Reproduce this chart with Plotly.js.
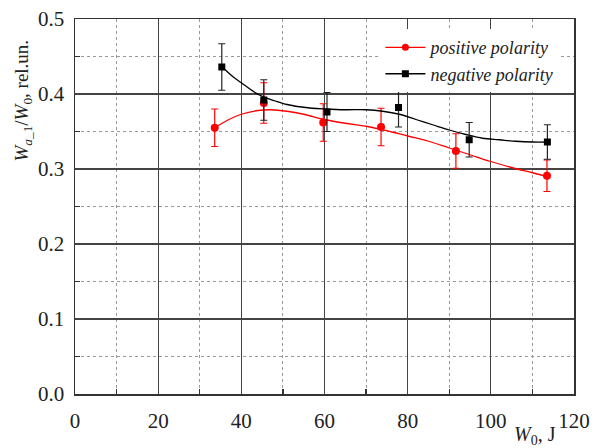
<!DOCTYPE html>
<html>
<head>
<meta charset="utf-8">
<script src="https://cdn.plot.ly/plotly-3.0.1.min.js"></script>
<style>html,body{margin:0;padding:0;background:#fff;}#chart{width:592px;height:448px;}</style>
</head>
<body>
<div id="chart"></div>
<script>
// measured points
var posX = [33.6, 45.4, 59.7, 73.6, 91.6, 113.5];
var posY = [0.355, 0.388, 0.362, 0.356, 0.324, 0.291];
var posErr = [0.025, 0.027, 0.025, 0.025, 0.023, 0.021];

var negX = [35.3, 45.4, 60.6, 77.8, 94.8, 113.6];
var negY = [0.436, 0.392, 0.376, 0.382, 0.339, 0.336];
var negErr = [0.031, 0.027, 0.026, 0.026, 0.023, 0.023];

// smoothed fit curves
var posFitX = [33.6, 37, 40, 44, 47, 51, 55, 60, 65, 70, 75, 80, 85, 90, 95, 100, 105, 110, 113.5];
var posFitY = [0.355, 0.366, 0.373, 0.378, 0.379, 0.377, 0.373, 0.366, 0.361, 0.357, 0.351, 0.344, 0.337, 0.328, 0.319, 0.310, 0.302, 0.295, 0.290];

var negFitX = [35.4, 38, 40, 43, 45.4, 48, 51, 54, 57, 60, 65, 70, 74, 78, 82, 86, 90, 94, 98, 102, 106, 110, 113.6];
var negFitY = [0.436, 0.423, 0.415, 0.403, 0.396, 0.391, 0.386, 0.383, 0.381, 0.380, 0.379, 0.379, 0.377, 0.373, 0.366, 0.359, 0.352, 0.346, 0.341, 0.339, 0.337, 0.336, 0.336];

var seriesNames = ['positive polarity', 'negative polarity'];
var xTitle = '<i>W</i><sub>0</sub>, J';
var yTitle = '<i>W</i><sub><i>a</i>_1</sub>/<i>W</i><sub>0</sub>, rel.un.';

var SERIF = 'Liberation Serif';
var RED = '#ff0000', BLK = '#000000';
var traces = [
  {x: posFitX, y: posFitY, mode: 'lines', line: {color: RED, width: 1.3, shape: 'spline'}, showlegend: false, hoverinfo: 'skip'},
  {x: posX, y: posY, mode: 'markers', marker: {color: RED, size: 8, symbol: 'circle'},
   error_y: {type: 'data', array: posErr, visible: true, color: RED, thickness: 1.2, width: 3.5}, showlegend: false},
  {x: negFitX, y: negFitY, mode: 'lines', line: {color: BLK, width: 1.3, shape: 'spline'}, showlegend: false, hoverinfo: 'skip'},
  {x: negX, y: negY, mode: 'markers', marker: {color: BLK, size: 7, symbol: 'square'},
   error_y: {type: 'data', array: negErr, visible: true, color: '#222', thickness: 1.2, width: 3.5}, showlegend: false},
  {x: [null], y: [null], mode: 'lines+markers', name: '<i>' + seriesNames[0] + '</i>',
   line: {color: RED, width: 1.3}, marker: {color: RED, size: 7, symbol: 'circle'}},
  {x: [null], y: [null], mode: 'lines+markers', name: '<i>' + seriesNames[1] + '</i>',
   line: {color: BLK, width: 1.3}, marker: {color: BLK, size: 7, symbol: 'square'}}
];

var layout = {
  width: 592, height: 448,
  margin: {l: 75, r: 18, t: 19, b: 54},
  paper_bgcolor: '#fff', plot_bgcolor: '#fff',
  font: {family: SERIF, size: 21, color: '#222'},
  showlegend: true,
  legend: {x: 0.612, y: 0.973, xanchor: 'left', yanchor: 'top', bgcolor: '#fff', borderwidth: 0,
    font: {family: SERIF, size: 18, color: '#222'},
    tracegroupgap: 0, itemwidth: 40},
  xaxis: {range: [0, 120], dtick: 20, tick0: 0, showgrid: true, gridcolor: '#444', gridwidth: 1.2,
    zeroline: false, showline: true, linecolor: '#333', linewidth: 1.5, mirror: true,
    ticks: '', tickfont: {family: SERIF, size: 21, color: '#222'}, ticklabelstandoff: 7,
    minor: {dtick: 10, showgrid: true, gridcolor: '#999', gridwidth: 1, griddash: '3px,3px', ticks: 'inside', ticklen: 5, tickcolor: '#333', tickwidth: 1.2}},
  yaxis: {range: [0, 0.5], dtick: 0.1, tick0: 0, tickformat: '.1f', showgrid: true, gridcolor: '#444', gridwidth: 1.2,
    zeroline: false, showline: true, linecolor: '#333', linewidth: 1.5, mirror: true,
    ticks: '', tickfont: {family: SERIF, size: 21, color: '#222'}, ticklabelstandoff: 5,
    minor: {dtick: 0.05, showgrid: true, gridcolor: '#999', gridwidth: 1, griddash: '3px,3px', ticks: 'inside', ticklen: 5, tickcolor: '#333', tickwidth: 1.2}},
  annotations: [
    {text: yTitle, xref: 'paper', yref: 'paper', x: -0.104, y: 0.783, xanchor: 'center', yanchor: 'middle',
     textangle: -90, showarrow: false, font: {family: SERIF, size: 19, color: '#222'}},
    {text: xTitle, xref: 'paper', yref: 'paper', x: 0.922, y: -0.11, xanchor: 'center', yanchor: 'middle',
     showarrow: false, font: {family: SERIF, size: 20, color: '#222'}}
  ]
};
Plotly.newPlot('chart', traces, layout, {staticPlot: true});
</script>
</body>
</html>
